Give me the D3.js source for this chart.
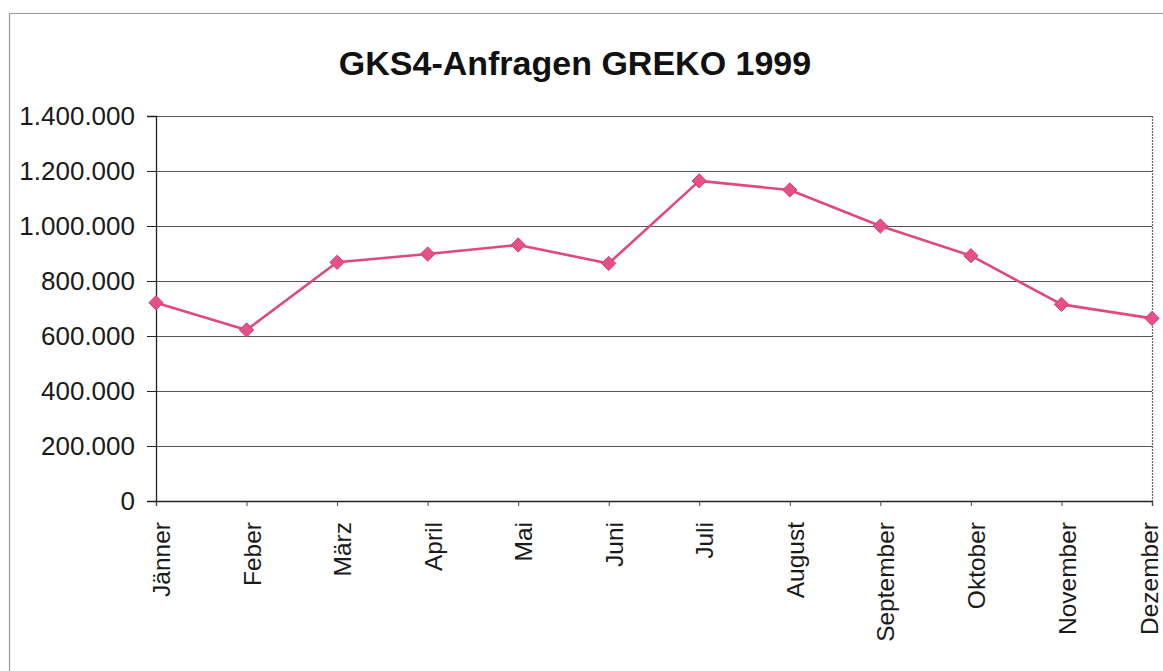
<!DOCTYPE html>
<html>
<head>
<meta charset="utf-8">
<script src="https://cdn.jsdelivr.net/npm/d3@7"></script>
<style>
  html, body { margin: 0; padding: 0; background: #fff; }
  svg { display: block; font-family: Arial, "Liberation Sans", sans-serif; }
</style>
</head>
<body>
<svg id="chart" width="1163" height="671"></svg>
<script>
// Monthly GKS4 requests, 1999
const months = ["Jänner", "Feber", "März", "April", "Mai", "Juni",
                "Juli", "August", "September", "Oktober", "November", "Dezember"];
const requests = [721000, 622000, 868000, 898000, 931000, 864000,
                  1164000, 1131000, 1000000, 892000, 715000, 664000];
const yTicks = [0, 200000, 400000, 600000, 800000, 1000000, 1200000, 1400000];
const title = "GKS4-Anfragen GREKO 1999";

const svg = d3.select("#chart");
const plot = { left: 156, right: 1152, top: 116, bottom: 501 };

// Outer chart frame (top and left edges visible)
svg.append("path")
  .attr("d", "M9.5,671 V13.5 H1163")
  .attr("fill", "none").attr("stroke", "#9a9a9a").attr("stroke-width", 1.2);

const x = d3.scalePoint().domain(months).range([plot.left, plot.right]);
const y = d3.scaleLinear().domain([0, 1400000]).range([plot.bottom, plot.top]);

// German number format: thousands separated by dots
const deFmt = d3.formatLocale({ decimal: ",", thousands: ".", grouping: [3], currency: ["", " €"] }).format(",.0f");

// Horizontal gridlines
svg.append("g")
  .selectAll("line")
  .data(yTicks.filter(d => d > 0))
  .join("line")
  .attr("x1", plot.left).attr("x2", plot.right)
  .attr("y1", d => Math.round(y(d)) + 0.5).attr("y2", d => Math.round(y(d)) + 0.5)
  .attr("stroke", "#555").attr("stroke-width", 1);

// Right border of the plot area (dotted)
svg.append("line")
  .attr("x1", plot.right + 0.5).attr("x2", plot.right + 0.5)
  .attr("y1", plot.top).attr("y2", plot.bottom)
  .attr("stroke", "#666").attr("stroke-width", 1.2).attr("stroke-dasharray", "2,1");

// Y axis
const yAxis = svg.append("g")
  .attr("transform", `translate(${plot.left},0)`)
  .call(d3.axisLeft(y).tickValues(yTicks).tickFormat(deFmt).tickSize(9).tickPadding(12));
yAxis.select(".domain").attr("stroke", "#222").attr("stroke-width", 1.3);
yAxis.selectAll(".tick line").attr("stroke", "#222");
yAxis.selectAll("text")
  .attr("font-size", 26).attr("fill", "#1a1a1a")
  .attr("font-family", "Arial, 'Liberation Sans', sans-serif");

// X axis with rotated month names
const xAxis = svg.append("g")
  .attr("transform", `translate(0,${plot.bottom})`)
  .call(d3.axisBottom(x).tickSize(5).tickPadding(0));
xAxis.select(".domain").attr("stroke", "#222").attr("stroke-width", 1.3);
xAxis.selectAll(".tick line").attr("stroke", "#444");
xAxis.selectAll("text")
  .attr("font-size", 24.5).attr("fill", "#1a1a1a")
  .attr("font-family", "Arial, 'Liberation Sans', sans-serif")
  .attr("text-anchor", "end")
  .attr("dy", "0.35em")
  // the last label is nudged inward so it stays inside the canvas
  .attr("transform", (d, i) => `translate(${i === months.length - 1 ? -8 : 0},21) rotate(-90)`);

// Series line
svg.append("path")
  .datum(requests)
  .attr("fill", "none")
  .attr("stroke", "#e0497f")
  .attr("stroke-width", 2.6)
  .attr("stroke-linejoin", "round")
  .attr("d", d3.line().x((d, i) => x(months[i])).y(d => y(d)));

// Diamond markers
svg.append("g")
  .selectAll("path")
  .data(requests)
  .join("path")
  .attr("transform", (d, i) => `translate(${x(months[i])},${y(d)})`)
  .attr("d", d3.symbol(d3.symbolDiamond2, 130))
  .attr("fill", "#e5508a")
  .attr("stroke", "#d63d76").attr("stroke-width", 1);

// Title
svg.append("text")
  .attr("x", 575).attr("y", 75)
  .attr("text-anchor", "middle")
  .attr("font-size", 34).attr("font-weight", "bold").attr("fill", "#111")
  .text(title);
</script>
</body>
</html>
